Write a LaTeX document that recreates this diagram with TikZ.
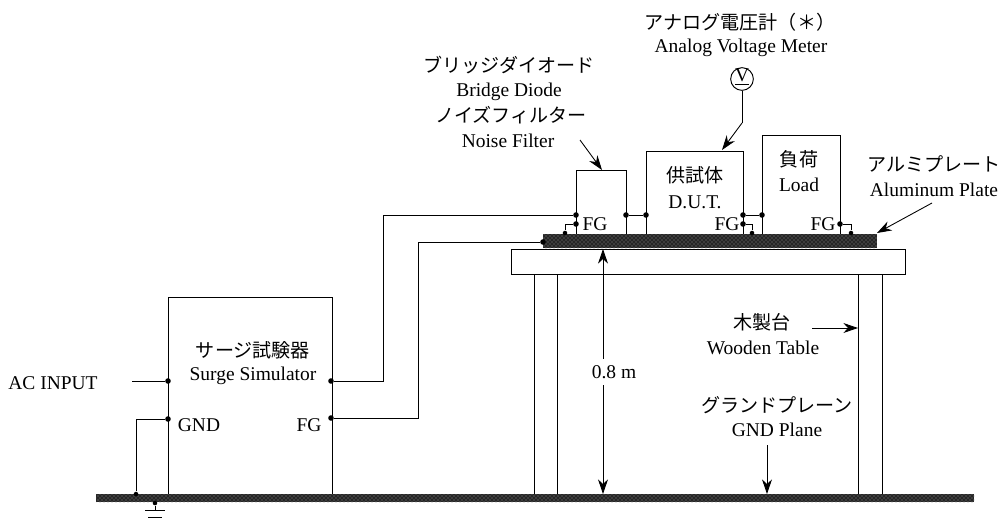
\documentclass[tikz,border=0pt]{standalone}
\usepackage{fontspec}
\setmainfont{Liberation Serif}
\newfontfamily\cjk{Noto Sans CJK JP}
\usetikzlibrary{arrows.meta,patterns,calc}
\tikzset{
  x=0.75pt,y=-0.75pt,
  wire/.style={line width=0.65pt,black},
  boxed/.style={draw,line width=0.85pt,fill=white,inner sep=0,anchor=north west},
  tablepart/.style={draw,line width=0.7pt,fill=white,inner sep=0,anchor=north west},
  dotn/.style={circle,fill=black,inner sep=0,minimum size=4.2pt},
  tinydot/.style={circle,fill=black,inner sep=0,minimum size=3.4pt},
  en/.style={font=\fontsize{14.6}{16}\selectfont,inner sep=0},
  jp/.style={font=\cjk\fontsize{14.3}{16}\selectfont,inner sep=0},
  pointer/.style={wire,-{Stealth[length=11pt,width=7.5pt]}},
  plate/.style={inner sep=0,anchor=north west,pattern color=black!45},
}
\begin{document}
\begin{tikzpicture}
\useasboundingbox (0,0) rectangle (1004,522);
% table
\node[tablepart,minimum width=17.25pt,minimum height=165.75pt] (legA) at (534,273) {};
\node[tablepart,minimum width=18pt,minimum height=165.75pt] (legB) at (858,273) {};
\node[tablepart,minimum width=295.5pt,minimum height=18.75pt] (top) at (511,249) {};
% boxes
\node[boxed,minimum width=123pt,minimum height=148.5pt] (surge) at (168,297) {};
\node[boxed,minimum width=37.5pt,minimum height=48pt] (filter) at (576,170) {};
\node[boxed,minimum width=72.75pt,minimum height=63pt] (dut) at (646,151) {};
\node[boxed,minimum width=58.5pt,minimum height=74.25pt] (load) at (762,135) {};
% plates
\node[plate,minimum width=250.5pt,minimum height=10.5pt,fill=black!85] (alplate) at (543,234) {};
\node[plate,minimum width=250.5pt,minimum height=10.5pt,pattern=crosshatch dots] (alplateTex) at (543,234) {};
\node[plate,minimum width=658.5pt,minimum height=6pt,fill=black!85] (gplane) at (96,494) {};
\node[plate,minimum width=658.5pt,minimum height=6pt,pattern=crosshatch dots] (gplaneTex) at (96,494) {};
% dots
\node[dotn] (sAC) at (168,381) {};
\node[dotn] (sGND) at (168,419) {};
\node[dotn] (sOut) at (331,381) {};
\node[dotn] (sFG) at (331,418) {};
\node[dotn] (fIn) at (576,215) {};
\node[dotn] (fFG) at (576,224) {};
\node[dotn] (fOut) at (626,215) {};
\node[dotn] (dIn) at (646,215) {};
\node[dotn] (dOut) at (743,215) {};
\node[dotn] (dFG) at (743,224) {};
\node[dotn] (lIn) at (762,215) {};
\node[dotn] (lFG) at (840,224) {};
\node[tinydot] (pA) at (565,233) {};
\node[tinydot] (pB) at (752,233) {};
\node[tinydot] (pC) at (851,233) {};
\node[dotn] (pIn) at (543,242) {};
\node[tinydot] (gA) at (136,494) {};
\node[tinydot] (gB) at (155,503) {};
\coordinate (acEnd) at (132,381);
\coordinate (gs) at (155,510);
% wires
\draw[wire] (acEnd) -- (sAC);
\draw[wire] (sGND) -| (gA);
\draw[wire] (sOut) -- (383,381) |- (fIn);
\draw[wire] (sFG) -- (418,418) |- (pIn);
\draw[wire] (fFG) -| (pA);
\draw[wire] (fOut) -- (dIn);
\draw[wire] (dOut) -- (lIn);
\draw[wire] (dFG) -| (pB);
\draw[wire] (lFG) -| (pC);
\draw[wire] (gB) -- (gs);
\draw[wire] ($(gs)+(-10,0)$) -- ($(gs)+(10,0)$);
\draw[wire] ($(gs)+(-7,7)$) -- ($(gs)+(7,7)$);
% meter
\node[draw,circle,line width=0.7pt,minimum size=17pt,inner sep=0,fill=white] (meter) at (742,79) {};
\node[en,font=\fontsize{14.5}{14}\selectfont] (vlab) at (742,77) {\underline{V}};
\coordinate (bend) at (742,123);
\coordinate (dutT) at (722,150);
\draw[wire] (meter) -- (bend);
\draw[pointer] (bend) -- (dutT);
% pointers
\coordinate (fTail) at (580,140);
\coordinate (fTip) at (602,170);
\draw[pointer] (fTail) -- (fTip);
\coordinate (alTail) at (932,203);
\coordinate (alTip) at (877,233);
\draw[pointer] (alTail) -- (alTip);
\coordinate (woodTail) at (812,328);
\coordinate (woodTip) at (858,328);
\draw[pointer] (woodTail) -- (woodTip);
\coordinate (gndTail) at (767,445);
\coordinate (gndTip) at (767,494);
\draw[pointer] (gndTail) -- (gndTip);
\coordinate (hTop) at (603,249);
\coordinate (hBot) at (603,494);
\draw[wire,{Stealth[length=11pt,width=7.5pt]}-{Stealth[length=11pt,width=7.5pt]}] (hTop) -- (hBot);
% labels
\node[jp] (t1) at (740,22) {アナログ電圧計（＊）};
\node[en] (t2) at (741,48) {Analog Voltage Meter};
\node[jp] (t3) at (509,65) {ブリッジダイオード};
\node[en] (t4) at (509,92) {Bridge Diode};
\node[jp] (t5) at (511,115) {ノイズフィルター};
\node[en] (t6) at (508,141) {Noise Filter};
\node[jp] (t7) at (695,175) {供試体};
\node[en] (t8) at (695,202) {D.U.T.};
\node[jp] (t9) at (799,159) {負荷};
\node[en] (t10) at (799,185) {Load};
\node[jp] (t11) at (934,164) {アルミプレート};
\node[en] (t12) at (934,190) {Aluminum Plate};
\node[en] (f1) at (595,224) {FG};
\node[en] (f2) at (727,224) {FG};
\node[en] (f3) at (823,224) {FG};
\node[jp] (t13) at (253,350) {サージ試験器};
\node[en] (t14) at (253,376) {Surge Simulator};
\node[en] (t15) at (53,383) {AC INPUT};
\node[en] (t16) at (199,425) {GND};
\node[en] (t17) at (309,425) {FG};
\node[en,fill=white,inner ysep=5pt] (t18) at (614,372) {0.8 m};
\node[jp] (t19) at (762,322) {木製台};
\node[en] (t20) at (763,348) {Wooden Table};
\node[jp] (t21) at (777,405) {グランドプレーン};
\node[en] (t22) at (777,430) {GND Plane};
\end{tikzpicture}
\end{document}
